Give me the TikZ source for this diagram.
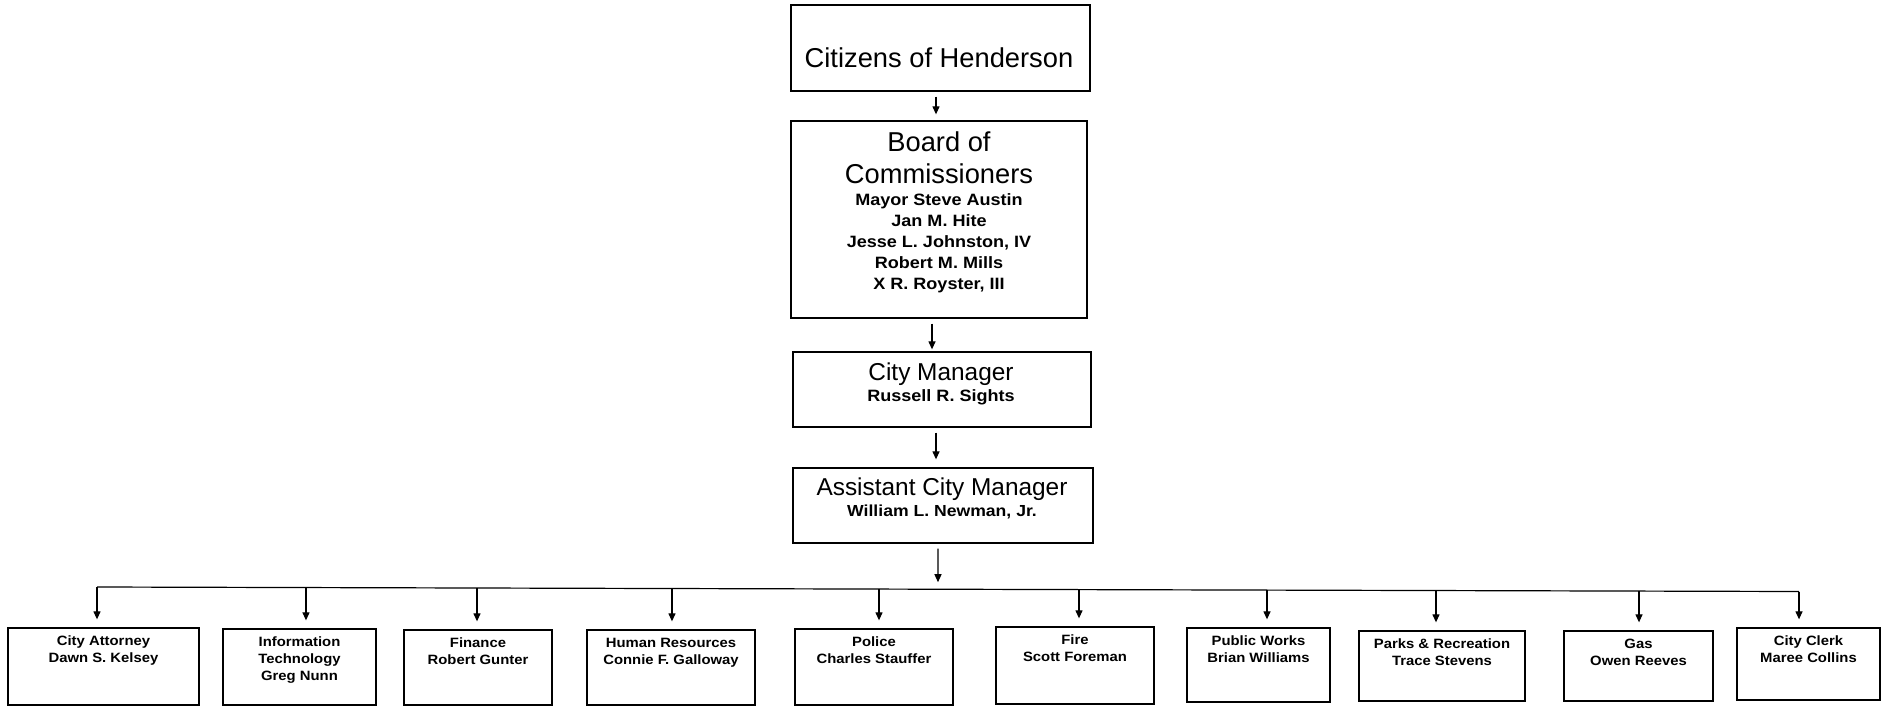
\documentclass[tikz,border=0pt]{standalone}
\usepackage{fontspec}
\setmainfont{Liberation Sans}
\newfontface\bnames[FakeStretch=1.1]{Liberation Sans Bold}
\usetikzlibrary{arrows.meta,calc,fit}
\tikzset{
  box/.style={draw=black, line width=1.3pt, inner sep=0pt},
  conn/.style={draw=black, line width=1.2pt},
  arr/.style={conn, -{Triangle[length=8pt,width=7pt]}},
  ttl/.style={inner sep=0pt, align=center, anchor=north},
  dtext/.style={ttl, font=\bnames\fontsize{13.5}{16.7}\selectfont},
}
\begin{document}
\begin{tikzpicture}[x=1pt,y=-1pt]
\useasboundingbox (0,0) rectangle (1881,706);

% top chain
\node[box, fit={(791,5) (1090,91)}] (cit) {};
\node[inner sep=0pt, anchor=base, font=\fontsize{27.3}{30}\selectfont] (tcit) at (939,67.5) {Citizens of Henderson};

\node[box, fit={(791,121) (1087,318)}] (board) {};
\node[ttl, font=\bnames\fontsize{16.4}{21}\selectfont] (tboard) at (939,132)
  {{\normalfont\fontsize{27.3}{27.3}\selectfont Board of}\\[10.5pt]{\normalfont\fontsize{27.3}{27.3}\selectfont Commissioners}\\[1.5pt]Mayor Steve Austin\\Jan M. Hite\\Jesse L. Johnston, IV\\Robert M. Mills\\X R. Royster, III};

\node[box, fit={(793,352) (1091,427)}] (cm) {};
\node[ttl, font=\bnames\fontsize{16.4}{21}\selectfont] (tcm) at (941,362.2)
  {{\normalfont\fontsize{24.4}{24.4}\selectfont City Manager}\\Russell R. Sights};

\node[box, fit={(793,468) (1093,543)}] (asst) {};
\node[ttl, font=\bnames\fontsize{16}{21}\selectfont] (tasst) at (942,477.2)
  {{\normalfont\fontsize{24.4}{24.4}\selectfont Assistant City Manager}\\William L. Newman, Jr.};

\coordinate (c1) at ([xshift=-4.5pt]cit.south);
\draw[arr, shorten <=5pt, shorten >=6pt] (c1) -- (c1 |- board.north);
\coordinate (c2) at ([xshift=-7pt]board.south);
\draw[arr, shorten <=5pt, shorten >=2pt] (c2) -- (c2 |- cm.north);
\coordinate (c3) at ([xshift=-6pt]cm.south);
\draw[arr, shorten <=5pt, shorten >=8pt] (c3) -- (c3 |- asst.north);

% departments
\node[box, fit={(8,628) (199,705)}] (b1) {};
\node[dtext] (t1) at ([yshift=-8.5pt]b1.north) {City Attorney\\Dawn S. Kelsey};
\node[box, fit={(223,629) (376,705)}] (b2) {};
\node[dtext] (t2) at ([yshift=-8.5pt]b2.north) {Information\\Technology\\Greg Nunn};
\node[box, fit={(404,630) (552,705)}] (b3) {};
\node[dtext] (t3) at ([yshift=-8.5pt]b3.north) {Finance\\Robert Gunter};
\node[box, fit={(587,630) (755,705)}] (b4) {};
\node[dtext] (t4) at ([yshift=-8.5pt]b4.north) {Human Resources\\Connie F. Galloway};
\node[box, fit={(795,629) (953,705)}] (b5) {};
\node[dtext] (t5) at ([yshift=-8.5pt]b5.north) {Police\\Charles Stauffer};
\node[box, fit={(996,627) (1154,704)}] (b6) {};
\node[dtext] (t6) at ([yshift=-8.5pt]b6.north) {Fire\\Scott Foreman};
\node[box, fit={(1187,628) (1330,702)}] (b7) {};
\node[dtext] (t7) at ([yshift=-8.5pt]b7.north) {Public Works\\Brian Williams};
\node[box, fit={(1359,631) (1525,701)}] (b8) {};
\node[dtext] (t8) at ([yshift=-8.5pt]b8.north) {Parks \& Recreation\\Trace Stevens};
\node[box, fit={(1564,631) (1713,701)}] (b9) {};
\node[dtext] (t9) at ([yshift=-8.5pt]b9.north) {Gas\\Owen Reeves};
\node[box, fit={(1737,628) (1880,700)}] (b10) {};
\node[dtext] (t10) at ([yshift=-8.5pt]b10.north) {City Clerk\\Maree Collins};

% distribution bar
\coordinate (barL) at (97,587);
\coordinate (barR) at (1799,591.5);
\draw[conn] (barL) -- (barR);

\coordinate (a4s) at ([xshift=-5pt]asst.south);
\coordinate (a4e) at ($(barL)!{(938-97)/1702}!(barR)$);
\draw[arr, shorten <=5pt, shorten >=7pt] (a4s) -- (a4e);

\foreach \i/\x in {1/97, 2/306, 3/477, 4/672, 5/879, 6/1079, 7/1267, 8/1436, 9/1639, 10/1799} {
  \coordinate (d\i) at ($(barL)!{(\x-97)/1702}!(barR)$);
  \draw[arr, shorten >=8pt] (d\i) -- (d\i |- b\i.north);
}
\end{tikzpicture}
\end{document}
